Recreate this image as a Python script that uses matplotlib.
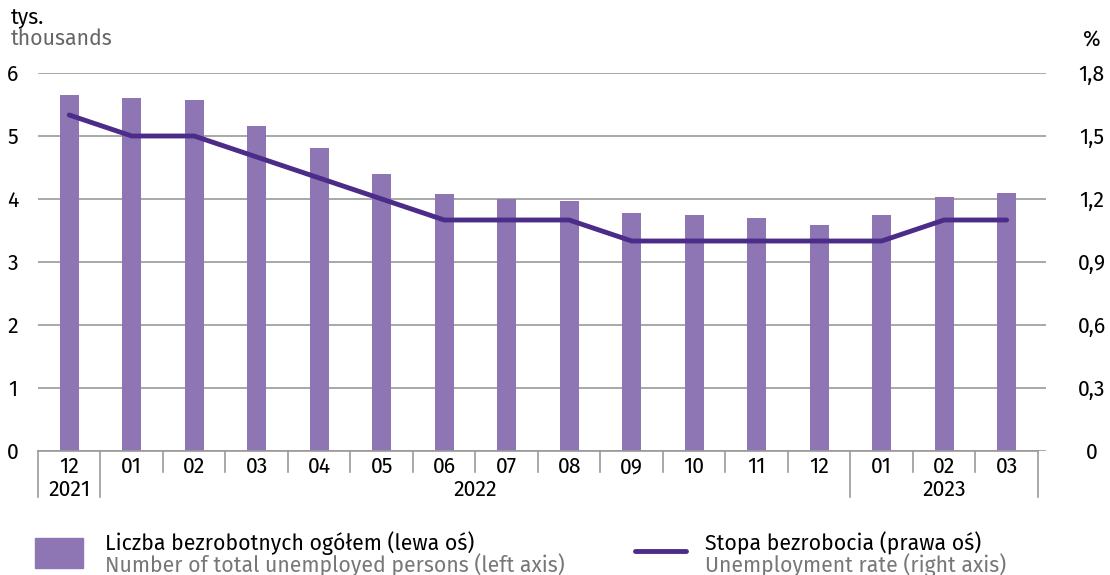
import matplotlib
matplotlib.use("Agg")
import matplotlib.pyplot as plt
from matplotlib.lines import Line2D
from matplotlib.patches import Rectangle

plt.rcParams['font.family'] = ['Fira Sans', 'Noto Sans', 'DejaVu Sans']
FS = 15.3

# Data
months = ["12", "01", "02", "03", "04", "05", "06", "07", "08", "09", "10", "11", "12", "01", "02", "03"]
years = [("2021", 0, 0), ("2022", 1, 12), ("2023", 13, 15)]
unemployed = [5.65, 5.60, 5.57, 5.16, 4.81, 4.40, 4.08, 4.00, 3.97, 3.78, 3.75, 3.70, 3.59, 3.75, 4.03, 4.10]
rate = [1.6, 1.5, 1.5, 1.4, 1.3, 1.2, 1.1, 1.1, 1.1, 1.0, 1.0, 1.0, 1.0, 1.0, 1.1, 1.1]
left_ticks = [0, 1, 2, 3, 4, 5, 6]
right_ticks = ["0", "0,3", "0,6", "0,9", "1,2", "1,5", "1,8"]

bar_color = '#8e76b4'
line_color = '#4b2c88'
grey = '#9a9a9a'
W, H = 1110, 575

fig = plt.figure(figsize=(11.1, 5.75), dpi=100)
ax = fig.add_axes([38 / W, 1 - 451 / H, (1046 - 38) / W, (451 - 73) / H])
x = list(range(len(months)))
ax.bar(x, unemployed, width=0.3, color=bar_color, zorder=2)
ax.set_xlim(-0.5, 15.63)
ax.set_ylim(0, 6)
ax.set_yticks(left_ticks)
ax.yaxis.grid(True, color=grey, linewidth=1.2, zorder=0)
for s in ax.spines.values():
    s.set_visible(False)
ax.tick_params(length=0)
ax.set_xticks([])
ax.set_yticklabels([str(t) for t in left_ticks], fontsize=FS)
for lab in ax.get_yticklabels():
    lab.set_horizontalalignment('center')
ax.tick_params(axis='y', pad=18)

ax2 = ax.twinx()
ax2.plot(x, rate, color=line_color, linewidth=3.5, solid_capstyle='round', zorder=3)
ax2.set_ylim(0, 1.8)
ax2.set_yticks([0, 0.3, 0.6, 0.9, 1.2, 1.5, 1.8])
ax2.set_yticklabels(right_ticks, fontsize=FS)
for s in ax2.spines.values():
    s.set_visible(False)
ax2.tick_params(length=0, pad=33)
for lab in ax2.get_yticklabels():
    lab.set_horizontalalignment('center')

# x axis: baseline, separators, month & year labels
trans = ax.get_xaxis_transform()
ax.plot([-0.5, 15.5], [0, 0], color=grey, linewidth=1.2, clip_on=False, transform=trans, zorder=4)
long_seps = [-0.5, 0.5, 12.5, 15.5]
for i in range(len(months) + 1):
    b = i - 0.5
    yb = -46 / 378 if b in long_seps else -21 / 378
    ax.plot([b, b], [0, yb], color=grey, linewidth=1.2, clip_on=False, transform=trans)
for i, m in enumerate(months):
    ax.text(i, -16 / 378, m, ha='center', va='center', fontsize=FS, transform=trans)
for name, a, b in years:
    ax.text((a + b) / 2, -39 / 378, name, ha='center', va='center', fontsize=FS, transform=trans)

# axis units
fig.text(11 / W, 1 - 18 / H, "tys.", fontsize=FS, va='center')
fig.text(11 / W, 1 - 39 / H, "thousands", fontsize=FS, va='center', color='#666666')
fig.text(1092 / W, 1 - 40 / H, "%", fontsize=FS, va='center', ha='center')

# legend
fig.patches.append(Rectangle((35 / W, 1 - 568 / H), 48 / W, 30 / H, color=bar_color, transform=fig.transFigure))
fig.text(105 / W, 1 - 543 / H, "Liczba bezrobotnych ogółem (lewa oś)", fontsize=FS, va='center')
fig.text(105 / W, 1 - 565 / H, "Number of total unemployed persons (left axis)", fontsize=FS, va='center', color='#777777')
fig.lines.append(Line2D([635 / W, 686 / W], [1 - 551 / H, 1 - 551 / H], color=line_color, linewidth=3.5,
                       solid_capstyle='round', transform=fig.transFigure))
fig.text(705 / W, 1 - 543 / H, "Stopa bezrobocia (prawa oś)", fontsize=FS, va='center')
fig.text(705 / W, 1 - 565 / H, "Unemployment rate (right axis)", fontsize=FS, va='center', color='#777777')

fig.savefig("out.png", dpi=100)
